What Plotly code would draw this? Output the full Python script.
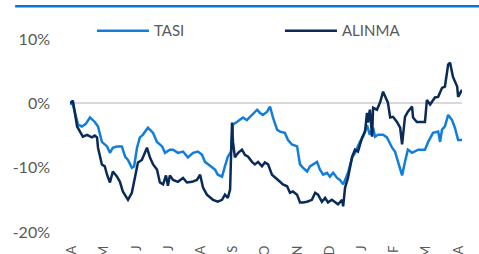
import plotly.graph_objects as go

# x = months since start of April (tick at each month start)
month_labels = ["A", "M", "J", "J", "A", "S", "O", "N", "D", "J", "F", "M", "A"]
month_ticks = list(range(13))

tasi_x = [-0.06, 0.03, 0.19, 0.31, 0.43, 0.56, 0.71, 0.81, 0.93, 1.09, 1.18, 1.27, 1.40, 1.55, 1.65,
          1.74, 1.86, 1.93, 2.02, 2.11, 2.20, 2.36, 2.52, 2.64, 2.80, 2.89, 3.04, 3.14, 3.29, 3.45,
          3.60, 3.76, 3.91, 4.04, 4.13, 4.29, 4.44, 4.53, 4.66, 4.75, 4.84, 4.94, 5.00, 5.12, 5.22,
          5.31, 5.43, 5.53, 5.62, 5.75, 5.84, 5.93, 6.06, 6.15, 6.24, 6.37, 6.46, 6.61, 6.71, 6.83,
          6.99, 7.08, 7.17, 7.30, 7.39, 7.48, 7.61, 7.70, 7.80, 7.92, 8.01, 8.11, 8.23, 8.32, 8.42,
          8.48, 8.57, 8.70, 8.79, 8.94, 9.04, 9.16, 9.25, 9.35, 9.41, 9.50, 9.66, 9.78, 9.94, 10.03,
          10.12, 10.25, 10.34, 10.43, 10.56, 10.75, 10.96, 11.06, 11.21, 11.37, 11.43, 11.49, 11.58,
          11.68, 11.80, 11.89, 11.99, 12.11]
tasi_y = [0.0, -0.2, -3.3, -3.6, -3.2, -2.2, -2.9, -3.6, -6.0, -6.7, -7.7, -6.9, -6.7, -6.7, -8.3,
          -8.8, -10.0, -9.8, -6.9, -5.3, -4.9, -3.8, -4.6, -6.0, -6.7, -7.7, -7.2, -7.2, -7.7, -7.5,
          -8.4, -7.7, -7.5, -8.0, -9.1, -9.8, -10.3, -11.1, -11.4, -9.8, -8.3, -7.5, -3.3, -2.9, -2.6,
          -2.2, -2.6, -2.1, -1.8, -1.0, -1.5, -1.8, -1.3, -0.5, -2.2, -4.1, -4.4, -4.6, -5.7, -6.4,
          -6.7, -9.5, -10.0, -10.6, -9.8, -9.5, -9.1, -10.3, -11.1, -10.8, -11.4, -10.8, -11.6, -11.9, -12.6,
          -11.9, -10.8, -8.4, -7.7, -6.0, -5.2, -3.4, -4.9, -3.8, -5.2, -4.9, -4.9, -5.3, -6.9, -7.5,
          -9.1, -11.2, -9.1, -7.2, -7.7, -7.2, -7.2, -6.0, -4.6, -4.4, -6.0, -4.1, -3.6,
          -1.8, -2.6, -3.8, -5.7, -5.7]

alinma_x = [-0.06, 0.03, 0.16, 0.25, 0.34, 0.47, 0.62, 0.71, 0.78, 0.81, 0.93, 1.02, 1.09, 1.18, 1.27,
            1.40, 1.49, 1.58, 1.74, 1.86, 1.96, 2.05, 2.17, 2.33, 2.42, 2.52, 2.64, 2.73, 2.83, 2.92,
            2.98, 3.04, 3.14, 3.29, 3.45, 3.57, 3.73, 3.88, 3.98, 4.07, 4.19, 4.29, 4.38, 4.53, 4.66,
            4.75, 4.84, 4.91, 4.97, 5.00, 5.06, 5.16, 5.28, 5.37, 5.47, 5.59, 5.68, 5.78, 5.90, 5.99,
            6.09, 6.21, 6.37, 6.46, 6.55, 6.68, 6.77, 6.86, 6.99, 7.08, 7.17, 7.30, 7.45, 7.55, 7.64,
            7.76, 7.86, 7.95, 8.07, 8.17, 8.26, 8.39, 8.42, 8.48, 8.57, 8.70, 8.79, 8.88, 9.01, 9.10,
            9.16, 9.19, 9.25, 9.32, 9.35, 9.47, 9.57, 9.66, 9.72, 9.81, 9.88, 9.97, 10.09, 10.19, 10.25,
            10.34, 10.43, 10.56, 10.59, 10.71, 10.96, 11.02, 11.12, 11.27, 11.37, 11.49, 11.58, 11.68,
            11.74, 11.83, 11.96, 11.99, 12.11]
alinma_y = [0.0, 0.4, -3.6, -4.4, -5.2, -4.9, -5.3, -5.0, -5.3, -6.9, -9.5, -9.8, -11.1, -12.3, -10.6,
            -11.4, -12.2, -13.7, -15.0, -13.9, -11.1, -9.2, -8.8, -6.9, -8.4, -9.5, -10.3, -12.3, -12.6, -11.2,
            -12.8, -11.2, -11.9, -12.2, -11.6, -12.3, -12.2, -11.9, -11.1, -13.1, -14.2, -14.7, -15.0, -15.3, -15.0,
            -14.2, -14.7, -13.4, -3.0, -6.0, -8.4, -7.7, -7.2, -8.0, -8.3, -9.1, -9.5, -9.1, -9.8, -9.2,
            -9.5, -11.1, -11.9, -12.2, -12.6, -12.9, -13.9, -13.7, -14.2, -15.4, -15.4, -15.3, -15.0, -13.9, -14.2,
            -15.3, -14.7, -15.4, -15.0, -15.4, -15.7, -15.0, -16.0, -13.1, -11.6, -8.3, -7.2, -7.5, -5.3, -4.4,
            -1.5, -3.0, -1.0, -5.2, -0.7, -1.0, 0.2, 1.8, 1.0, 0.1, -2.2, -2.1, -2.9, -3.8, -6.4,
            -2.1, -1.3, -0.5, -2.2, -2.9, -2.9, 0.5, -0.2, 0.9, 1.0, 2.4, 2.6, 6.0,
            6.3, 4.1, 2.6, 1.0, 2.1]

y_ticks = [10, 0, -10, -20]
y_labels = ["10%", "0%", "-10%", "-20%"]

TASI_COLOR = "#127EDB"
ALINMA_COLOR = "#0A2A58"
TEXT_COLOR = "#595959"
FONT = "Lato"

fig = go.Figure()
fig.add_trace(go.Scatter(x=tasi_x, y=tasi_y, mode="lines", name="TASI",
                         line=dict(color=TASI_COLOR, width=2.5)))
fig.add_trace(go.Scatter(x=alinma_x, y=alinma_y, mode="lines", name="ALINMA",
                         line=dict(color=ALINMA_COLOR, width=2.5)))

fig.update_layout(
    width=479, height=254,
    margin=dict(l=70, r=17, t=5, b=21.5, autoexpand=False),
    paper_bgcolor="white", plot_bgcolor="white",
    font=dict(family=FONT, color=TEXT_COLOR, size=15),
    showlegend=True,
    legend=dict(orientation="h", x=0.056, y=0.886, xanchor="left", yanchor="middle",
                bgcolor="rgba(0,0,0,0)", font=dict(size=15, color=TEXT_COLOR),
                itemwidth=52, entrywidth=121, entrywidthmode="pixels",
                traceorder="normal"),
    xaxis=dict(range=[-0.06, 12.11], tickvals=month_ticks, ticktext=month_labels,
               tickangle=-90, showgrid=False, zeroline=False, showline=False, automargin=False,
               ticks="", tickfont=dict(size=13, color=TEXT_COLOR), ticklabelstandoff=10),
    yaxis=dict(range=[-20, 10], domain=[0, 0.8505], tickvals=y_ticks, ticktext=y_labels,
               showgrid=False, zeroline=True, zerolinecolor="#D9D9D9", zerolinewidth=2,
               showline=False, automargin=False, ticks="", tickfont=dict(size=16, color=TEXT_COLOR),
               ticklabelstandoff=19),
    shapes=[dict(type="line", xref="paper", yref="paper",
                 x0=-0.14, x1=1.05, y0=0.995, y1=0.995,
                 line=dict(color="#0A74D6", width=2.5))],
)

fig.write_html("out.html", config={"displayModeBar": False},
               post_script="document.body.style.margin='0px';")
